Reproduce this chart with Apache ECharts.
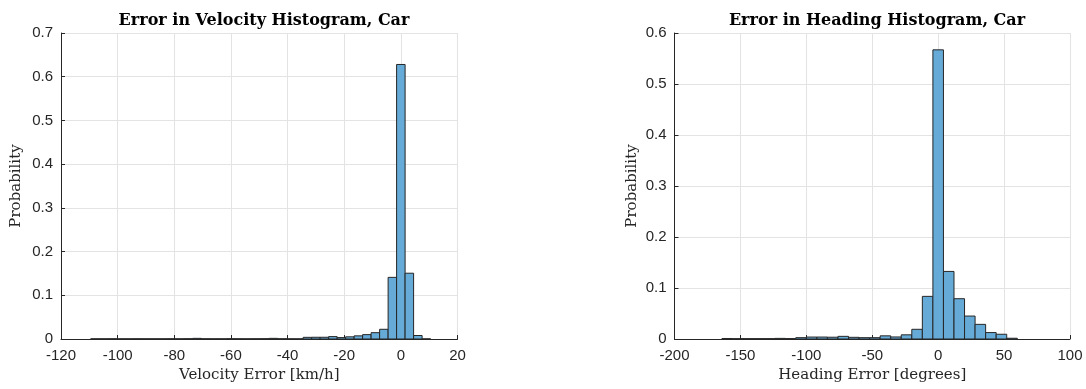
<!DOCTYPE html>
<html>
<head>
<meta charset="utf-8">
<script src="https://cdn.jsdelivr.net/npm/echarts@6/dist/echarts.min.js"></script>
<style>
  html, body { margin: 0; padding: 0; background: #fff; }
  #chart { width: 1086px; height: 389px; }
</style>
</head>
<body>
<div id="chart"></div>
<script>
// Velocity error histogram: bin edges (km/h) and probability per bin
const velocityEdges = [-109.5, -106.5, -103.5, -100.5, -97.5, -94.5, -91.5, -88.5, -85.5, -82.5,
  -79.5, -76.5, -73.5, -70.5, -67.5, -64.5, -61.5, -58.5, -55.5, -52.5,
  -49.5, -46.5, -43.5, -40.5, -37.5, -34.5, -31.5, -28.5, -25.5, -22.5,
  -19.5, -16.5, -13.5, -10.5, -7.5, -4.5, -1.5, 1.5, 4.5, 7.5, 10.5];
const velocityProb = [0.0005, 0.0005, 0.0006, 0.0005, 0.0005, 0.0006, 0.0005, 0.0005, 0.0005, 0.0006,
  0.0005, 0.0007, 0.0015, 0.0006, 0.0005, 0.0005, 0.0007, 0.0006, 0.0005, 0.0006,
  0.0007, 0.0015, 0.0006, 0.0005, 0.0004, 0.0038, 0.0040, 0.0040, 0.0055, 0.0032,
  0.0050, 0.0072, 0.0100, 0.0145, 0.0222, 0.1410, 0.6280, 0.1505, 0.0080, 0.0003];

// Heading error histogram: bin edges (degrees) and probability per bin
const headingEdges = [-164, -156, -148, -140, -132, -124, -116, -108, -100, -92,
  -84, -76, -68, -60, -52, -44, -36, -28, -20, -12,
  -4, 4, 12, 20, 28, 36, 44, 52, 60];
const headingProb = [0.0010, 0.0007, 0.0007, 0.0007, 0.0007, 0.0012, 0.0008, 0.0026, 0.0038, 0.0038,
  0.0035, 0.0052, 0.0033, 0.0026, 0.0026, 0.0062, 0.0040, 0.0082, 0.0190, 0.0836,
  0.5670, 0.1325, 0.0790, 0.0450, 0.0287, 0.0126, 0.0093, 0.0015];

// Axis ticks
const velocityXTicks = [-120, -100, -80, -60, -40, -20, 0, 20];
const velocityYTicks = [0, 0.1, 0.2, 0.3, 0.4, 0.5, 0.6, 0.7];
const headingXTicks = [-200, -150, -100, -50, 0, 50, 100];
const headingYTicks = [0, 0.1, 0.2, 0.3, 0.4, 0.5, 0.6];

const titles = ['Error in Velocity Histogram, Car', 'Error in Heading Histogram, Car'];
const xNames = ['Velocity Error [km/h]', 'Heading Error [degrees]'];
const yName = 'Probability';

const INK = '#262626';
const GRID = '#e3e3e3';
const FILL = '#66aad7';
const SERIF = '"DejaVu Serif", serif';
const SANS = '"Liberation Sans", Arial, sans-serif';

function binData(edges, probs) {
  return probs.map((p, i) => [edges[i], edges[i + 1], p]);
}

function renderBin(params, api) {
  const x0 = api.value(0), x1 = api.value(1), y = api.value(2);
  const top = api.coord([x0, y]);
  const base = api.coord([x1, 0]);
  return {
    type: 'rect',
    shape: { x: top[0], y: top[1], width: base[0] - top[0], height: base[1] - top[1] },
    style: { fill: FILL, stroke: INK, lineWidth: 1 }
  };
}

function xAxis(idx, ticks, name) {
  return {
    type: 'value', gridIndex: idx,
    min: ticks[0], max: ticks[ticks.length - 1], interval: ticks[1] - ticks[0],
    name: name, nameLocation: 'middle', nameGap: 28,
    nameTextStyle: { fontFamily: SERIF, fontSize: 15, color: INK },
    axisLine: { show: true, onZero: false, lineStyle: { color: INK, width: 1 } },
    axisTick: { show: true, inside: true, length: 4, lineStyle: { color: INK } },
    axisLabel: { fontFamily: SANS, fontSize: 15, color: INK, margin: 9 },
    splitLine: { show: true, lineStyle: { color: GRID, width: 1 } }
  };
}

function yAxis(idx, ticks, gap) {
  return {
    type: 'value', gridIndex: idx,
    min: ticks[0], max: ticks[ticks.length - 1], interval: ticks[1] - ticks[0],
    name: yName, nameLocation: 'middle', nameGap: gap, nameRotate: 90,
    nameTextStyle: { fontFamily: SERIF, fontSize: 15, color: INK },
    axisLine: { show: true, onZero: false, lineStyle: { color: INK, width: 1 } },
    axisTick: { show: true, inside: true, length: 4, lineStyle: { color: INK } },
    axisLabel: { fontFamily: SANS, fontSize: 15, color: INK, margin: 8 },
    splitLine: { show: true, lineStyle: { color: GRID, width: 1 } }
  };
}

const chart = echarts.init(document.getElementById('chart'), null, { renderer: 'canvas' });
chart.setOption({
  animation: false,
  backgroundColor: '#fff',
  title: [
    { text: titles[0], left: 259, top: 8, textAlign: 'center',
      textStyle: { fontFamily: SERIF, fontWeight: 'bold', fontSize: 16, color: '#000' } },
    { text: titles[1], left: 872, top: 8, textAlign: 'center',
      textStyle: { fontFamily: SERIF, fontWeight: 'bold', fontSize: 16, color: '#000' } }
  ],
  grid: [
    { left: 61, top: 33, width: 396.5, height: 306, containLabel: false },
    { left: 674.5, top: 33, width: 395.5, height: 306, containLabel: false }
  ],
  xAxis: [xAxis(0, velocityXTicks, xNames[0]), xAxis(1, headingXTicks, xNames[1])],
  yAxis: [yAxis(0, velocityYTicks, 37), yAxis(1, headingYTicks, 35)],
  series: [
    { type: 'custom', xAxisIndex: 0, yAxisIndex: 0, clip: true,
      renderItem: renderBin, encode: { x: [0, 1], y: 2 },
      data: binData(velocityEdges, velocityProb) },
    { type: 'custom', xAxisIndex: 1, yAxisIndex: 1, clip: true,
      renderItem: renderBin, encode: { x: [0, 1], y: 2 },
      data: binData(headingEdges, headingProb) }
  ]
});
</script>
</body>
</html>
